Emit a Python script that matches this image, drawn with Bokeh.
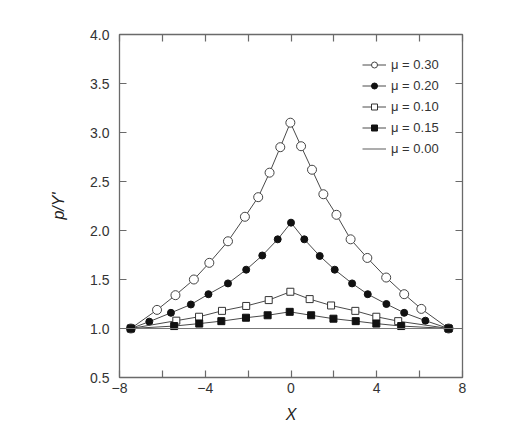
from bokeh.plotting import figure
from bokeh.models import (Range1d, LinearAxis, FixedTicker, Legend, LegendItem,
                          NumeralTickFormatter)
from bokeh.embed import file_html
from bokeh.resources import INLINE

# values (x position, p/Y')
x30 = [-7.47, -6.25, -5.39, -4.53, -3.81, -2.94, -2.15, -1.53, -1.00, -0.50, -0.03,
       0.47, 0.98, 1.51, 2.12, 2.78, 3.56, 4.44, 5.28, 6.08, 7.35]
p30 = [1.00, 1.19, 1.34, 1.50, 1.67, 1.89, 2.14, 2.34, 2.59, 2.85, 3.10,
       2.86, 2.62, 2.37, 2.16, 1.91, 1.72, 1.52, 1.35, 1.20, 1.00]

x20 = [-7.47, -6.61, -5.60, -4.67, -3.85, -2.94, -2.09, -1.34, -0.62, 0.00,
       0.62, 1.34, 2.04, 2.85, 3.58, 4.45, 5.28, 6.27, 7.35]
p20 = [1.00, 1.07, 1.16, 1.245, 1.35, 1.46, 1.60, 1.745, 1.91, 2.08,
       1.91, 1.74, 1.60, 1.46, 1.35, 1.25, 1.16, 1.08, 1.00]

x10 = [-7.47, -5.35, -4.29, -3.22, -2.09, -1.04, -0.03, 0.87, 1.87, 3.00, 3.98, 5.00, 7.35]
p10 = [1.00, 1.08, 1.12, 1.18, 1.23, 1.29, 1.375, 1.30, 1.235, 1.18, 1.12, 1.075, 1.00]

x15 = [-7.47, -5.45, -4.28, -3.25, -2.10, -1.09, -0.06, 0.94, 1.98, 3.02, 3.98, 5.14, 7.35]
p15 = [1.00, 1.025, 1.05, 1.075, 1.11, 1.135, 1.17, 1.135, 1.10, 1.075, 1.05, 1.025, 1.00]

x00 = [-8.0, 8.0]
p00 = [1.0, 1.0]

labels = ['\u03bc = 0.30', '\u03bc = 0.20', '\u03bc = 0.10', '\u03bc = 0.15', '\u03bc = 0.00']
x_ticks = [-8, -4, 0, 4, 8]
x_minor = [-6, -2, 2, 6]
x_tick_labels = {-8: '\u22128', -4: '\u22124', 0: '0', 4: '4', 8: '8'}
y_ticks = [0.5, 1.0, 1.5, 2.0, 2.5, 3.0, 3.5, 4.0]

FONT = 'Liberation Sans'
AX = '#6a6a6a'
LC = '#4a4a4a'

p = figure(width=500, height=426, output_backend='svg', toolbar_location=None,
           x_range=Range1d(-8, 8), y_range=Range1d(0.5, 4.0),
           min_border_left=119, min_border_right=38,
           min_border_top=34, min_border_bottom=49)
p.grid.grid_line_color = None
p.outline_line_color = AX
p.outline_line_width = 1.3

def style_axis(ax, ticks, minor, show_labels):
    ax.ticker = FixedTicker(ticks=ticks, minor_ticks=minor)
    ax.axis_line_color = None
    ax.major_tick_in = 7
    ax.major_tick_out = 0
    ax.minor_tick_in = 7
    ax.minor_tick_out = 0
    ax.major_tick_line_color = AX
    ax.minor_tick_line_color = AX
    ax.major_tick_line_width = 1.2
    ax.minor_tick_line_width = 1.2
    if show_labels:
        ax.major_label_text_font = FONT
        ax.major_label_text_font_size = '14px'
        ax.major_label_text_color = '#333333'
    else:
        ax.major_label_text_color = None
        ax.major_label_standoff = 0

xa = p.xaxis[0]
style_axis(xa, x_ticks, x_minor, True)
xa.major_label_overrides = x_tick_labels
xa.major_label_standoff = 5
xa.axis_label = 'X'
xa.axis_label_text_font = FONT
xa.axis_label_text_font_style = 'italic'
xa.axis_label_text_font_size = '16px'
xa.axis_label_text_color = '#222222'
xa.axis_label_standoff = 10

ya = p.yaxis[0]
style_axis(ya, y_ticks, [], True)
ya.formatter = NumeralTickFormatter(format='0.0')
ya.major_label_standoff = 10
ya.axis_label = "p/Y'"
ya.axis_label_text_font = FONT
ya.axis_label_text_font_style = 'italic'
ya.axis_label_text_font_size = '16px'
ya.axis_label_text_color = '#222222'
ya.axis_label_standoff = 20

top = LinearAxis()
style_axis(top, x_ticks, x_minor, False)
p.add_layout(top, 'above')
right = LinearAxis()
style_axis(right, y_ticks, [], False)
p.add_layout(right, 'right')

items = []

# mu = 0.30, open circles
l = p.line(x30, p30, line_color=LC, line_width=1)
s = p.scatter(x30, p30, marker='circle', size=9, line_color='#444444',
              fill_color='white', line_width=1)
items.append(LegendItem(label=labels[0], renderers=[l, s]))

# mu = 0.20, filled circles
l = p.line(x20, p20, line_color=LC, line_width=1)
s = p.scatter(x20, p20, marker='circle', size=7, line_color='#111111',
              fill_color='#111111')
items.append(LegendItem(label=labels[1], renderers=[l, s]))

# mu = 0.10, open squares
l = p.line(x10, p10, line_color=LC, line_width=1)
s = p.scatter(x10, p10, marker='square', size=7, line_color='#333333',
              fill_color='white', line_width=1)
items.append(LegendItem(label=labels[2], renderers=[l, s]))

# mu = 0.15, filled squares
l = p.line(x15, p15, line_color=LC, line_width=1)
s = p.scatter(x15, p15, marker='square', size=7, line_color='#111111',
              fill_color='#111111')
items.append(LegendItem(label=labels[3], renderers=[l, s]))

# mu = 0.00, plain line
l = p.line(x00, p00, line_color='#777777', line_width=1.2)
items.append(LegendItem(label=labels[4], renderers=[l]))

legend = Legend(items=items, location=(243, 221), margin=0, padding=0,
                border_line_color=None, background_fill_alpha=0,
                glyph_width=24, glyph_height=15, spacing=6, label_height=15,
                label_standoff=5, label_text_font=FONT,
                label_text_font_size='13px', label_text_color='#333333')
p.add_layout(legend, 'center')

open('out.html', 'w').write(file_html(p, INLINE))
